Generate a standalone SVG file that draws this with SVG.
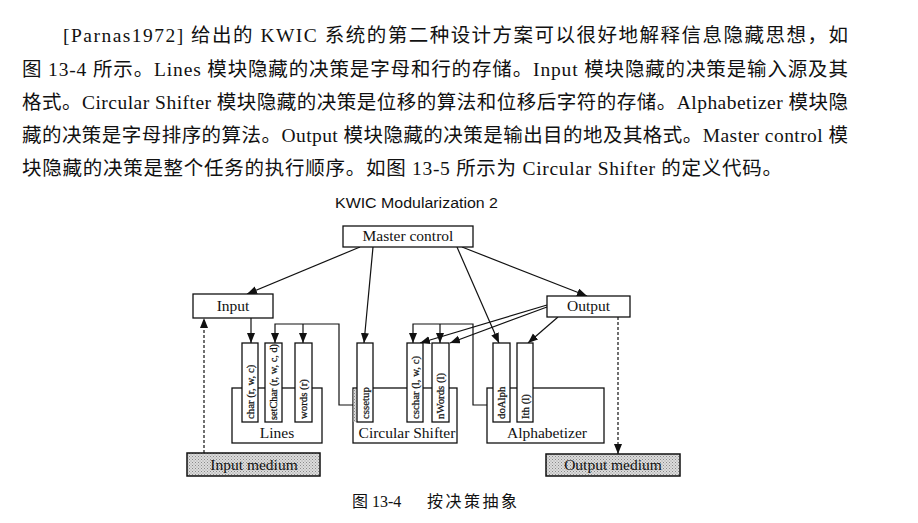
<svg xmlns="http://www.w3.org/2000/svg" width="918" height="523" viewBox="0 0 918 523">
  <style>
    .para { font-family: "Liberation Serif", "Noto Sans CJK SC", serif; font-size: 19.5px; fill: #111; }
    .cap { font-family: "Liberation Serif", "Noto Sans CJK SC", serif; font-size: 16px; fill: #111; }
    .title { font-family: "Liberation Sans", Arial, sans-serif; font-size: 15.5px; fill: #111; }
    .box { fill: #fff; stroke: #111; stroke-width: 1.3; }
    .med { fill: url(#stipple); stroke: #111; stroke-width: 1.5; }
    .lbl { font-family: "Liberation Serif", serif; font-size: 15.5px; fill: #111; text-anchor: middle; }
    .col { font-family: "Liberation Serif", serif; font-size: 10.8px; fill: #111; stroke: #111; stroke-width: 0.25; }
    .ln { fill: none; stroke: #111; stroke-width: 1.2; }
    .dash { fill: none; stroke: #111; stroke-width: 1.2; stroke-dasharray: 3 2; }
  </style>
  <defs>
    <marker id="ah" markerUnits="userSpaceOnUse" markerWidth="11" markerHeight="9" refX="10" refY="4" orient="auto">
      <path d="M0,0 L10,4 L0,8 z" fill="#111"/>
    </marker>
    <pattern id="stipple" width="3" height="3" patternUnits="userSpaceOnUse">
      <rect width="3" height="3" fill="#dcdcdc"/>
      <rect width="1" height="1" fill="#8a8a8a"/>
      <rect x="1.5" y="1.5" width="1" height="1" fill="#9a9a9a"/>
    </pattern>
  </defs>
  <rect width="918" height="523" fill="#fff"/>

  <!-- body text above the figure -->
  <g id="paragraph">
    <text class="para" x="63" y="42" textLength="785" lengthAdjust="spacing">[Parnas1972] 给出的 KWIC 系统的第二种设计方案可以很好地解释信息隐藏思想，如</text>
    <text class="para" x="22" y="76" textLength="826" lengthAdjust="spacing">图 13-4 所示。Lines 模块隐藏的决策是字母和行的存储。Input 模块隐藏的决策是输入源及其</text>
    <text class="para" x="22" y="109" textLength="826" lengthAdjust="spacing">格式。Circular Shifter 模块隐藏的决策是位移的算法和位移后字符的存储。Alphabetizer 模块隐</text>
    <text class="para" x="22" y="142" textLength="826" lengthAdjust="spacing">藏的决策是字母排序的算法。Output 模块隐藏的决策是输出目的地及其格式。Master control 模</text>
    <text class="para" x="22" y="175" textLength="760" lengthAdjust="spacing">块隐藏的决策是整个任务的执行顺序。如图 13-5 所示为 Circular Shifter 的定义代码。</text>
  </g>

  <text class="title" x="335" y="208" textLength="163" lengthAdjust="spacingAndGlyphs">KWIC Modularization 2</text>

  <!-- connectors -->
  <g id="connectors">
    <line class="ln" x1="360" y1="247" x2="247" y2="294" marker-end="url(#ah)"/>
    <line class="ln" x1="462" y1="247" x2="587" y2="296" marker-end="url(#ah)"/>
    <line class="ln" x1="373" y1="247" x2="364" y2="343" marker-end="url(#ah)"/>
    <line class="ln" x1="457" y1="247" x2="499" y2="343" marker-end="url(#ah)"/>
    <line class="ln" x1="251" y1="318" x2="251" y2="343" marker-end="url(#ah)"/>
    <!-- Circular Shifter uses Lines -->
    <path class="ln" d="M353,405 H339 V324 H275 V343" marker-end="url(#ah)"/>
    <path class="ln" d="M303,324 V343" marker-end="url(#ah)"/>
    <!-- Alphabetizer uses Circular Shifter -->
    <path class="ln" d="M487,405 H473 V324 H413 V343" marker-end="url(#ah)"/>
    <path class="ln" d="M440,324 V343" marker-end="url(#ah)"/>
    <!-- Output calls -->
    <line class="ln" x1="547" y1="305" x2="420" y2="343" marker-end="url(#ah)"/>
    <line class="ln" x1="547" y1="307" x2="450" y2="343" marker-end="url(#ah)"/>
    <line class="ln" x1="558" y1="317" x2="528" y2="343" marker-end="url(#ah)"/>
    <!-- media -->
    <line class="dash" x1="204" y1="453" x2="204" y2="318" marker-end="url(#ah)"/>
    <line class="dash" x1="618" y1="317" x2="618" y2="454" marker-end="url(#ah)"/>
  </g>

  <g id="master-control">
    <rect class="box" x="343" y="226" width="130" height="21"/>
    <text class="lbl" x="408" y="241">Master control</text>
  </g>

  <g id="input">
    <rect class="box" x="193" y="294" width="80" height="24"/>
    <text class="lbl" x="233" y="311">Input</text>
  </g>

  <g id="output">
    <rect class="box" x="547" y="296" width="83" height="21"/>
    <text class="lbl" x="588.5" y="311">Output</text>
  </g>

  <g id="lines">
    <rect class="box" x="232" y="388" width="90" height="55"/>
    <text class="lbl" x="277" y="438">Lines</text>
    <rect class="box" x="242" y="343" width="16" height="79"/>
    <text class="col" transform="translate(253.8,419) rotate(-90)">char (r, w, c)</text>
    <rect class="box" x="265" y="343" width="17" height="79"/>
    <text class="col" transform="translate(277.3,420) rotate(-90)" textLength="76" lengthAdjust="spacingAndGlyphs">setChar (r, w, c, d)</text>
    <rect class="box" x="295" y="343" width="17" height="79"/>
    <text class="col" transform="translate(307.3,419) rotate(-90)">words (r)</text>
  </g>

  <g id="circular-shifter">
    <rect class="box" x="353" y="388" width="104" height="55"/>
    <rect x="353.6" y="389" width="3" height="33" fill="url(#stipple)"/>
    <text class="lbl" x="407" y="438">Circular Shifter</text>
    <rect class="box" x="357" y="343" width="16" height="79"/>
    <text class="col" transform="translate(368.8,419) rotate(-90)">cssetup</text>
    <rect class="box" x="407" y="343" width="16" height="79"/>
    <text class="col" transform="translate(418.8,419) rotate(-90)">cschar (l, w, c)</text>
    <rect class="box" x="432" y="343" width="17" height="79"/>
    <text class="col" transform="translate(444.3,419) rotate(-90)">nWords (l)</text>
  </g>

  <g id="alphabetizer">
    <rect class="box" x="487" y="388" width="117" height="55"/>
    <text class="lbl" x="547" y="438">Alphabetizer</text>
    <rect class="box" x="493" y="343" width="17" height="79"/>
    <text class="col" transform="translate(505.3,419) rotate(-90)">doAlph</text>
    <rect class="box" x="517" y="343" width="16" height="79"/>
    <text class="col" transform="translate(528.8,419) rotate(-90)">Ith (l)</text>
  </g>

  <g id="input-medium">
    <rect class="med" x="187" y="453" width="133" height="23"/>
    <text class="lbl" x="254" y="470">Input medium</text>
  </g>

  <g id="output-medium">
    <rect class="med" x="546" y="454" width="134" height="22"/>
    <text class="lbl" x="613" y="470">Output medium</text>
  </g>

  <text class="cap" x="352" y="507">图 13-4</text>
  <text class="cap" x="427" y="507" textLength="90" lengthAdjust="spacing">按决策抽象</text>
</svg>
